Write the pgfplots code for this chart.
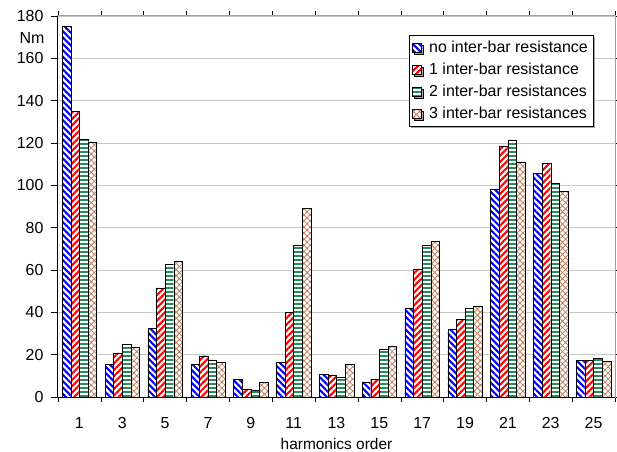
\documentclass[border=0pt]{standalone}
\usepackage{fontspec}
\setmainfont{Liberation Sans}
\usepackage{pgfplots}
\usepackage{pgfplotstable}
\pgfplotsset{compat=1.18}
\usetikzlibrary{patterns.meta,shadows}
\definecolor{cBlue}{RGB}{0,0,255}
\definecolor{cRed}{RGB}{255,0,0}
\definecolor{cGreen}{RGB}{40,140,90}
\definecolor{cBrown}{RGB}{192,128,96}
\definecolor{gridgray}{RGB}{200,200,200}
\newcommand\bigf{\fontsize{16}{18}\selectfont}
\pgfplotstableread{
x s1 s2 s3 s4
0 175 135 122 120.6
1 15.3 20.8 25 23.3
2 32.3 51.5 62.8 64
3 15.3 19.5 17.5 16.5
4 8.2 3.8 3.2 6.8
5 16.5 40 71.5 89
6 10.6 10.1 9.2 15.3
7 7.1 8.4 22.4 24.1
8 42 60.5 71.5 73.7
9 31.8 36.6 42 43
10 98 118.3 121.5 110.8
11 105.8 110.5 100.8 97.3
12 17.3 17.3 18.1 16.9
}\datatable
\begin{document}
\begin{tikzpicture}
\path[use as bounding box] (-58bp,-55bp) rectangle (559bp,397bp);
\begin{axis}[
  at={(0,0)}, anchor=south west,
  scale only axis, width=557bp, height=381bp,
  ybar=0pt, bar width=8.6bp,
  xmin=-0.5, xmax=12.5, ymin=0, ymax=180,
  xtick={0,1,...,12},
  xticklabel={\bigf\pgfmathparse{int(2*\tick+1)}\pgfmathresult},
  yticklabel={\bigf\pgfmathparse{int(\tick)}\pgfmathresult},
  minor xtick={-0.5,0.5,...,12.5},
  major x tick style={draw=none},
  minor x tick style={black, thin},
  minor tick length=5bp,
  ytick={0,20,...,180},
  major tick length=7bp,
  y tick style={black, thin},
  tick align=outside,
  ymajorgrids,
  grid style={gridgray, line width=0.8bp},
  axis line style={gridgray!80!black, line width=1bp},
  xticklabel style={yshift=-10bp},
  yticklabel style={xshift=-4bp},
  xlabel={harmonics order},
  xlabel style={font=\fontsize{15.5}{17}\selectfont, yshift=-3bp},
  clip=false,
  legend style={at={(0.9605,0.95)}, anchor=north east, draw=black, fill=white,
    font=\bigf, row sep=5bp, inner xsep=3bp, inner ysep=4bp,
    drop shadow={shadow xshift=2bp, shadow yshift=-2bp, fill=gray!70, opacity=1},
    /tikz/every odd column/.append style={column sep=6bp},
    cells={anchor=west}},
  legend image code/.code={\draw[#1] (0bp,-4.2bp) rectangle (8.5bp,4.2bp);},
  legend cell align=left,
]
\addplot[draw=black, thin, fill=white, postaction={pattern={Lines[angle=-45,distance=4.5bp,line width=2.1bp]}, pattern color=cBlue}] table[x=x,y=s1]{\datatable};
\addplot[draw=black, thin, fill=white, postaction={pattern={Lines[angle=45,distance=4.5bp,line width=2.1bp]}, pattern color=cRed}] table[x=x,y=s2]{\datatable};
\addplot[draw=black, thin, fill=white, postaction={pattern={Lines[angle=0,distance=4bp,line width=2bp]}, pattern color=cGreen}] table[x=x,y=s3]{\datatable};
\addplot[draw=black, thin, fill=white, postaction={pattern={Hatch[angle=45,distance=4.3bp,line width=0.8bp]}, pattern color=cBrown}] table[x=x,y=s4]{\datatable};
\legend{no inter-bar resistance, 1 inter-bar resistance, 2 inter-bar resistances, 3 inter-bar resistances}
\draw[black, line width=1bp] (rel axis cs:0,1) -- (rel axis cs:0,0) -- (rel axis cs:1,0);
\node[font=\bigf] at (rel axis cs:0,0.943) [xshift=-26bp] {Nm};
\end{axis}
\end{tikzpicture}
\end{document}
